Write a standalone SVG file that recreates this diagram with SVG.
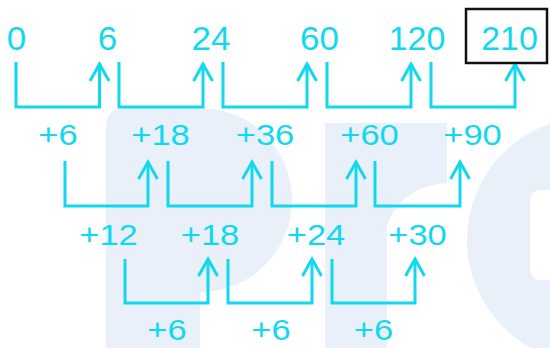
<svg xmlns="http://www.w3.org/2000/svg" width="550" height="348" viewBox="0 0 550 348">
<style>
.t1{font-family:"Liberation Sans",Arial,sans-serif;font-size:33px;fill:#12d8ee;text-anchor:middle}
.t2{font-family:"Liberation Sans",Arial,sans-serif;font-size:30px;fill:#12d8ee;text-anchor:middle}
.c{fill:none;stroke:#12d8ee;stroke-width:3}
.wm{fill:#e9f0fa}
</style>
<defs>
<path id="arr" d="M-9.5,17 L0,0 L9.5,17" class="c"/>
</defs>
<rect width="550" height="348" fill="#fff"/>
<g id="watermark">
<path class="wm" d="M106,348 V128 Q106,108 126,108 H200 A92,92 0 0 1 200,292 V348 Z"/>
<path class="wm" d="M325,348 V123 H447 V183 Q402,186 387,225 V348 Z"/>
<circle class="wm" cx="590" cy="240" r="123"/>
<path d="M550,190 H540 Q530,190 530,205 V265 Q530,280 540,280 H550 Z" fill="#fff"/>
</g>
<g id="connectors">
<path class="c" d="M16,62 V107 H99.5 V64"/>
<path class="c" d="M119,62 V107 H203 V64"/>
<path class="c" d="M223,62 V107 H307 V64"/>
<path class="c" d="M327,62 V107 H411 V64"/>
<path class="c" d="M431,62 V107 H515 V64"/>
<use href="#arr" x="99.5" y="64"/>
<use href="#arr" x="203" y="64"/>
<use href="#arr" x="307" y="64"/>
<use href="#arr" x="411" y="64"/>
<use href="#arr" x="515" y="64"/>
<path class="c" d="M65,161 V206 H148 V162"/>
<path class="c" d="M168,161 V206 H252 V162"/>
<path class="c" d="M272,161 V206 H356 V162"/>
<path class="c" d="M375,161 V206 H460 V162"/>
<use href="#arr" x="148" y="162"/>
<use href="#arr" x="252" y="162"/>
<use href="#arr" x="356" y="162"/>
<use href="#arr" x="460" y="162"/>
<path class="c" d="M125,259 V303 H208 V259"/>
<path class="c" d="M228,259 V303 H312 V259"/>
<path class="c" d="M332,259 V303 H415 V259"/>
<use href="#arr" x="208" y="259"/>
<use href="#arr" x="312" y="259"/>
<use href="#arr" x="415" y="259"/>
</g>
<g id="n0"><text class="t1" transform="translate(16.5,50) scale(1.06,1)">0</text></g>
<g id="n6"><text class="t1" transform="translate(107.5,50) scale(1.06,1)">6</text></g>
<g id="n24"><text class="t1" transform="translate(211,50) scale(1.06,1)">24</text></g>
<g id="n60"><text class="t1" transform="translate(319.5,50) scale(1.06,1)">60</text></g>
<g id="n120"><text class="t1" transform="translate(417,50) scale(1.03,1)">120</text></g>
<g id="n210"><rect x="466" y="9" width="81" height="54" fill="none" stroke="#111" stroke-width="2.5"/><text class="t1" transform="translate(509.5,50) scale(1.03,1)">210</text></g>
<g id="d1a"><text class="t2" transform="translate(58,145) scale(1.15,1)">+6</text></g>
<g id="d1b"><text class="t2" transform="translate(160.5,145) scale(1.15,1)">+18</text></g>
<g id="d1c"><text class="t2" transform="translate(265,145) scale(1.15,1)">+36</text></g>
<g id="d1d"><text class="t2" transform="translate(369.5,145) scale(1.15,1)">+60</text></g>
<g id="d1e"><text class="t2" transform="translate(472.5,145) scale(1.15,1)">+90</text></g>
<g id="d2a"><text class="t2" transform="translate(108.5,245) scale(1.15,1)">+12</text></g>
<g id="d2b"><text class="t2" transform="translate(210,245) scale(1.15,1)">+18</text></g>
<g id="d2c"><text class="t2" transform="translate(316,245) scale(1.15,1)">+24</text></g>
<g id="d2d"><text class="t2" transform="translate(417.5,245) scale(1.15,1)">+30</text></g>
<g id="d3a"><text class="t2" transform="translate(167,340) scale(1.15,1)">+6</text></g>
<g id="d3b"><text class="t2" transform="translate(271,340) scale(1.15,1)">+6</text></g>
<g id="d3c"><text class="t2" transform="translate(373.5,340) scale(1.15,1)">+6</text></g>
</svg>
